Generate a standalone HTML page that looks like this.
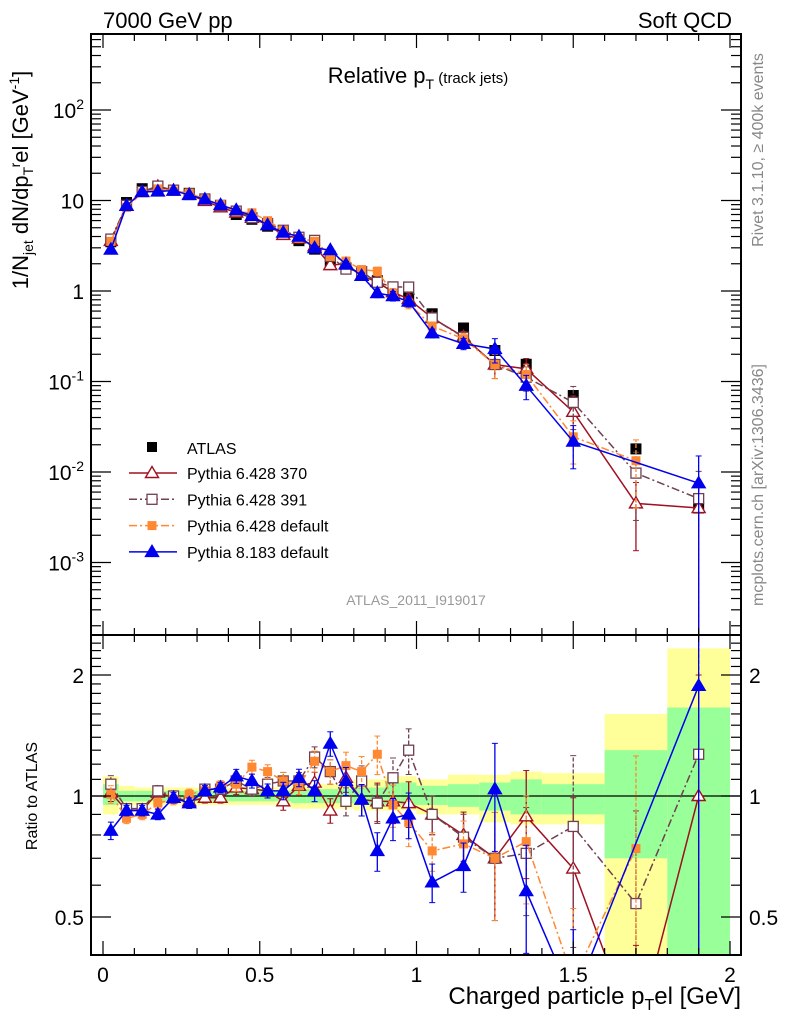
<!DOCTYPE html>
<html><head><meta charset="utf-8"><style>
html,body{margin:0;padding:0;background:#fff;overflow:hidden;width:786px;height:1024px}
svg{display:block;font-family:"Liberation Sans",sans-serif}
</style></head><body>
<svg id="c" width="786" height="1024" viewBox="0 0 786 1024"></svg>
<script>
const xCenters=[0.025,0.075,0.125,0.175,0.225,0.275,0.325,0.375,0.425,0.475,0.525,0.575,0.625,0.675,0.725,0.775,0.825,0.875,0.925,0.975,1.05,1.15,1.25,1.35,1.5,1.7,1.9];
const xHalfWidths=[0.025,0.025,0.025,0.025,0.025,0.025,0.025,0.025,0.025,0.025,0.025,0.025,0.025,0.025,0.025,0.025,0.025,0.025,0.025,0.025,0.05,0.05,0.05,0.05,0.1,0.1,0.1];
const atlasValues=[3.5,9.5,13.5,14,13,12,10,8.5,7,6.2,5.2,4.3,3.6,2.9,2.1,1.8,1.5,1.3,1.0,0.85,0.56,0.39,0.22,0.155,0.07,0.018,0.004];
const ratio370=[1.02,0.92,0.92,1.02,0.99,0.97,0.99,0.99,1.05,1.04,1.03,0.97,1.06,1.08,0.92,1.11,0.98,0.97,0.97,0.96,0.90,0.80,0.70,0.89,0.66,0.25,1.0];
const ratio391=[1.07,0.93,0.93,1.03,1.0,0.97,1.04,1.04,1.09,1.04,1.07,1.09,1.09,1.25,1.15,0.97,1.09,0.96,1.11,1.3,0.90,0.79,0.70,0.72,0.84,0.54,1.27];
const ratioP6def=[1.01,0.88,0.90,0.96,0.98,1.01,1.03,1.06,1.07,1.18,1.15,1.09,1.06,1.22,1.15,1.19,1.15,1.27,0.95,0.86,0.73,0.76,0.70,0.77,0.35,0.74,null];
const ratioP8=[0.82,0.92,0.92,0.90,0.99,0.96,1.03,1.05,1.12,1.09,1.03,1.03,1.11,1.03,1.35,1.09,0.98,0.73,0.88,0.90,0.61,0.67,1.04,0.58,0.31,null,1.88];
const mcRelErr=[0.05,0.03,0.03,0.03,0.03,0.03,0.03,0.03,0.04,0.04,0.04,0.05,0.05,0.06,0.07,0.08,0.09,0.11,0.12,0.13,0.11,0.14,0.3,0.3,0.5,0.7,1.0];
const bandYellowLo=[0.9,0.95,0.95,0.95,0.95,0.95,0.95,0.95,0.95,0.95,0.95,0.95,0.93,0.93,0.93,0.93,0.92,0.92,0.92,0.92,0.9,0.9,0.86,0.85,0.85,0.3,0.3];
const bandYellowHi=[1.12,1.06,1.05,1.05,1.05,1.05,1.05,1.05,1.05,1.05,1.05,1.05,1.07,1.07,1.07,1.07,1.1,1.1,1.12,1.12,1.1,1.13,1.13,1.15,1.14,1.6,2.33];
const bandGreenLo=[0.95,0.97,0.97,0.97,0.97,0.97,0.97,0.97,0.97,0.97,0.97,0.97,0.96,0.96,0.96,0.96,0.95,0.95,0.95,0.95,0.95,0.94,0.92,0.9,0.9,0.7,0.3];
const bandGreenHi=[1.07,1.03,1.03,1.03,1.03,1.03,1.03,1.03,1.03,1.03,1.03,1.03,1.04,1.04,1.04,1.04,1.05,1.05,1.08,1.08,1.06,1.07,1.08,1.1,1.07,1.3,1.66];
const xTicks=[0,0.5,1,1.5,2];
const yDecades=[-3,-2,-1,0,1,2];
const rTicks=[0.5,1,2];

const NS="http://www.w3.org/2000/svg";
const svg=document.getElementById('c');
const L=91,R=741,T=34,MB=635,RB=955;
const X=v=>103+313.5*v;
const Y=v=>291-90.5*Math.log10(v);
const YR=v=>796-402*Math.log10(v);
function mk(tag,attrs,parent){const e=document.createElementNS(NS,tag);for(const k in attrs)e.setAttribute(k,attrs[k]);(parent||svg).appendChild(e);return e;}
function txt(s,x,y,size,anchor,parent,fill){const t=mk('text',{x:x,y:y,'font-size':size,'text-anchor':anchor||'start',fill:fill||'#000'},parent);t.textContent=s;return t;}

const defs=mk('defs',{});
const cp1=mk('clipPath',{id:'cm'},defs);mk('rect',{x:L,y:T,width:R-L,height:MB-T},cp1);
const cp2=mk('clipPath',{id:'cr'},defs);mk('rect',{x:L,y:MB,width:R-L,height:RB-MB},cp2);

const gBand=mk('g',{'clip-path':'url(#cr)'});


for(let i=0;i<xCenters.length;i++){
  const x0=X(xCenters[i]-xHalfWidths[i]),x1=X(xCenters[i]+xHalfWidths[i]);
  const y=mk('rect',{x:x0,y:YR(bandYellowHi[i]),width:x1-x0,height:YR(bandYellowLo[i])-YR(bandYellowHi[i]),fill:'#ffff99'},gBand);
  
  
  const g=mk('rect',{x:x0,y:YR(bandGreenHi[i]),width:x1-x0,height:YR(bandGreenLo[i])-YR(bandGreenHi[i]),fill:'#99ff99'},gBand);
  
  
}
mk('line',{x1:L,x2:R,y1:YR(1),y2:YR(1),stroke:'#000','stroke-width':1.2},gBand);

const series=[
 {name:'pythia-6428-370',ratio:ratio370,color:'#a01020',dash:'',marker:'tri-open'},
 {name:'pythia-6428-391',ratio:ratio391,color:'#704050',dash:'8,3,2,3',marker:'sq-open'},
 {name:'pythia-6428-default',ratio:ratioP6def,color:'#ff8833',dash:'8,3,2,3',marker:'sq-fill'},
 {name:'pythia-8183-default',ratio:ratioP8,color:'#0000ee',dash:'',marker:'tri-fill'}
];
function marker(type,x,y,color,parent){
  let e;
  if(type==='tri-open'||type==='tri-fill'){
    e=mk('polygon',{points:`${x},${y-6.5} ${x-6.5},${y+4.5} ${x+6.5},${y+4.5}`,fill:type==='tri-fill'?color:'#fff',stroke:color,'stroke-width':1.4},parent);
  }else if(type==='sq-open'){
    e=mk('rect',{x:x-5,y:y-5,width:10,height:10,fill:'#fff',stroke:color,'stroke-width':1.3},parent);
  }else{
    e=mk('rect',{x:x-4.5,y:y-4.5,width:9,height:9,fill:color},parent);
  }
  return e;
}
function drawSeries(s,panel){
  const isMain=panel==='main';
  const g=mk('g',{'clip-path':isMain?'url(#cm)':'url(#cr)'});
  
  
  const yf=i=>isMain?Y(atlasValues[i]*s.ratio[i]):YR(s.ratio[i]);
  let d='';let started=false;
  for(let i=0;i<xCenters.length;i++){
    if(s.ratio[i]==null)continue;
    d+=(started?'L':'M')+X(xCenters[i])+','+yf(i);started=true;
  }
  mk('path',{d:d,fill:'none',stroke:s.color,'stroke-width':1.5,'stroke-dasharray':s.dash},g);
  for(let i=0;i<xCenters.length;i++){
    if(s.ratio[i]==null)continue;
    const r=s.ratio[i],e=mcRelErr[i]*r;
    const lo=Math.max(r-e,0.01),hi=r+e;
    const ylo=isMain?Y(atlasValues[i]*lo):YR(lo),yhi=isMain?Y(atlasValues[i]*hi):YR(hi);
    const x=X(xCenters[i]);
    mk('line',{x1:x,x2:x,y1:ylo,y2:yhi,stroke:s.color,'stroke-width':1.3,'stroke-dasharray':s.dash?'4,2':''},g);
    mk('line',{x1:x-3,x2:x+3,y1:ylo,y2:ylo,stroke:s.color,'stroke-width':1},g);
    mk('line',{x1:x-3,x2:x+3,y1:yhi,y2:yhi,stroke:s.color,'stroke-width':1},g);
    const m=marker(s.marker,x,yf(i),s.color,g);
    
    
  }
}
series.forEach(s=>drawSeries(s,'ratio'));

const gA=mk('g',{'clip-path':'url(#cm)'});


for(let i=0;i<xCenters.length;i++){
  const m=mk('rect',{x:X(xCenters[i])-5.5,y:Y(atlasValues[i])-5.5,width:11,height:11,fill:'#000'},gA);
  
  
}
series.forEach(s=>drawSeries(s,'main'));

const fr=mk('rect',{x:L,y:T,width:R-L,height:RB-T,fill:'none',stroke:'#000','stroke-width':2});


mk('line',{x1:L,x2:R,y1:MB,y2:MB,stroke:'#000','stroke-width':2});

const gx=mk('g',{});


for(let v=0;v<=2.0001;v+=0.1){
  const x=X(v);const major=Math.abs(v*2-Math.round(v*2))<1e-6;const len=major?14:7;
  [[MB,-1],[T,1],[RB,-1],[MB,1]].forEach(([y0,dir])=>{
    mk('line',{x1:x,x2:x,y1:y0,y2:y0+dir*len,stroke:'#000','stroke-width':1.2},gx);
  });
}
xTicks.forEach(v=>{const t=txt(String(v),X(v),982,21,'middle',gx);});
const xt=txt('',741,1004,24,'end',gx);


xt.innerHTML='Charged particle p<tspan font-size="16" dy="6">T</tspan><tspan dy="-6">el [GeV]</tspan>';

const gy=mk('g',{});


for(let d=-4;d<=2;d++){
  for(let k=1;k<10;k++){
    const v=k*Math.pow(10,d);const y=Y(v);if(y<T||y>MB)continue;
    const len=k===1?20:10;
    mk('line',{x1:L,x2:L+len,y1:y,y2:y,stroke:'#000','stroke-width':1.2},gy);
    mk('line',{x1:R,x2:R-len,y1:y,y2:y,stroke:'#000','stroke-width':1.2},gy);
  }
}
yDecades.forEach(d=>{
  const y=Y(Math.pow(10,d))+8;let t;
  if(d===0)t=txt('1',84,y,21,'end',gy);
  else if(d===1)t=txt('10',84,y,21,'end',gy);
  else{t=txt('',84,y,21,'end',gy);t.innerHTML='10<tspan font-size="14" dy="-9">'+d+'</tspan>';}
  
  
});
const yt=txt('',0,0,22,'middle',gy);
yt.setAttribute('transform','translate(28,180) rotate(-90)');


yt.innerHTML='1/N<tspan font-size="14" dy="5">jet</tspan><tspan dy="-5"> dN/dp</tspan><tspan font-size="14" dy="5">T</tspan><tspan font-size="14" dy="-13">r</tspan><tspan dy="8">el [GeV</tspan><tspan font-size="14" dy="-9">-1</tspan><tspan dy="9">]</tspan>';

const gr=mk('g',{});


for(let v=0.4;v<=2.5;v+=0.1){
  const vv=Math.round(v*10)/10;const y=YR(vv);if(y<MB||y>RB)continue;
  const len=(vv===0.5||vv===1||vv===2)?20:10;
  mk('line',{x1:L,x2:L+len,y1:y,y2:y,stroke:'#000','stroke-width':1.2},gr);
  mk('line',{x1:R,x2:R-len,y1:y,y2:y,stroke:'#000','stroke-width':1.2},gr);
}
rTicks.forEach(v=>{
  const t1=txt(String(v),84,YR(v)+8,21,'end',gr);
  const t2=txt(String(v),749,YR(v)+8,21,'start',gr);
});
const rt=txt('Ratio to ATLAS',0,0,16,'middle',gr);
rt.setAttribute('transform','translate(37,796) rotate(-90)');



const t1=txt('7000 GeV pp',103,28,22,'start');
const t2=txt('Soft QCD',732,28,22,'end');
const t3=txt('',418,83,22,'middle');
t3.innerHTML='Relative p<tspan font-size="14" dy="6">T</tspan><tspan font-size="15" dy="-6"> (track jets)</tspan>';
const t4=txt('ATLAS_2011_I919017',416,605,14,'middle',null,'#999');
const t5=txt('Rivet 3.1.10, \u2265 400k events',0,0,16,'middle',null,'#888');t5.setAttribute('transform','translate(763,150) rotate(-90)');
const t6=txt('mcplots.cern.ch [arXiv:1306.3436]',0,0,16,'middle',null,'#888');t6.setAttribute('transform','translate(763,485) rotate(-90)');

const gl=mk('g',{});


const la=mk('rect',{x:147,y:442,width:10,height:10,fill:'#000'},gl);


txt('ATLAS',187,454,16,'start',gl);
const legendLabels=['Pythia 6.428 370','Pythia 6.428 391','Pythia 6.428 default','Pythia 8.183 default'];
series.forEach((s,i)=>{
  const y=473+i*26.3;
  mk('line',{x1:129,x2:177,y1:y,y2:y,stroke:s.color,'stroke-width':1.5,'stroke-dasharray':s.dash},gl);
  const m=marker(s.marker,152,y,s.color,gl);
  
  
  txt(legendLabels[i],187,y+6,16,'start',gl);
});
</script>
</body></html>
